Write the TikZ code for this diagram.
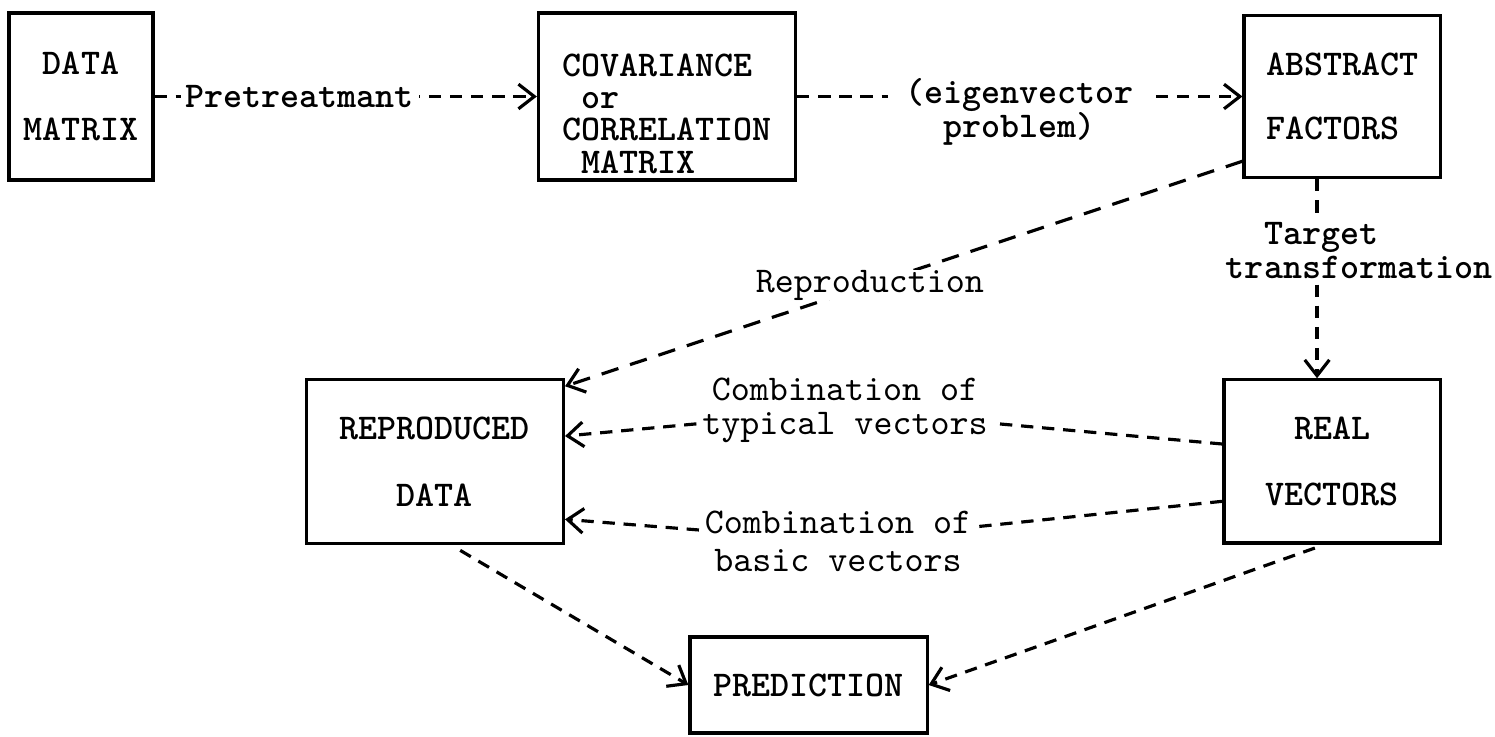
\documentclass[tikz,border=0pt]{standalone}
\usepackage{fontspec}
\usetikzlibrary{arrows.meta, positioning}

\begin{document}
\begin{tikzpicture}[
  x=0.01cm, y=-0.01cm,
  font=\ttfamily\fontsize{10.3}{9.6}\selectfont,
  box/.style={rectangle, draw, line width=0.9pt, minimum width=2.57cm,
              minimum height=1.65cm, inner sep=0pt, align=center,
              font=\ttfamily\bfseries\fontsize{10.3}{9.6}\selectfont},
  lbl/.style={fill=white, inner sep=1.5pt, align=center},
  boldlbl/.style={lbl, font=\ttfamily\bfseries\fontsize{10.3}{9.6}\selectfont},
  arrow/.style={-{Straight Barb[length=4.5pt,width=7pt]}, line width=0.9pt,
                dash pattern=on 3.5pt off 2.5pt},
  longarrow/.style={arrow, dash pattern=on 5pt off 3.5pt},
]
  \useasboundingbox (0,0) rectangle (1495,736);

  % top row
  \node[box, minimum width=1.44cm, minimum height=1.67cm, align=left] (dm) at (81,96.5)
    {\phantom{a}DATA\\[0.33cm]MATRIX};
  \node[box, minimum height=1.67cm, right=3.82cm of dm] (cov) {};
  \node[align=left, font=\ttfamily\bfseries\fontsize{10.3}{9.2}\selectfont] (covtxt)
    at ([yshift=-0.17cm]cov.center) {COVARIANCE\\\phantom{a}or\\CORRELATION\\\phantom{a}MATRIX};
  \node[box, minimum width=1.96cm, minimum height=1.62cm, align=left, right=4.45cm of cov] (abs)
    {ABSTRACT\\[0.3cm]FACTORS};

  % middle row
  \node[box, minimum width=2.16cm, minimum height=1.63cm, below=1.99cm of abs, xshift=-0.1cm] (real)
    {REAL\\[0.33cm]VECTORS};
  \node[box, minimum height=1.64cm, left=6.57cm of real] (rep) {REPRODUCED\\[0.33cm]DATA};

  % bottom
  \node[box, minimum width=2.37cm, minimum height=0.96cm] (pred) at (808.5,685) {PREDICTION};

  % labels between the middle boxes
  \node[lbl] (typ) at (845,410) {Combination of\\typical vectors};
  \node[lbl, font=\ttfamily\fontsize{10.3}{10.8}\selectfont] (bas) at (838,541) {Combination of\\basic vectors};

  \draw[arrow] (dm) -- node[boldlbl, pos=0.38] {Pretreatmant} (cov);
  \draw[arrow] (cov) -- node[boldlbl, inner xsep=5pt, yshift=-0.155cm] {(eigenvector\\problem)} (abs);
  \draw[longarrow] (abs.213) -- node[lbl, pos=0.55, inner sep=0pt] {Reproduction} (rep.30);
  \draw[arrow] ([xshift=-0.25cm]abs.south) -- node[boldlbl, pos=0.36, xshift=0.42cm, align=left]
    {\phantom{aa}Target\\transformation} ([xshift=-0.15cm]real.north);
  \draw[arrow] (real.171) -- (typ) -- (rep.11);
  \draw[arrow] (real.200) -- (bas) -- (rep.-24);
  \draw[arrow, shorten <=3pt] (rep.-79) -- (pred.west);
  \draw[arrow, shorten <=3pt] (real.-95) -- (pred.east);
\end{tikzpicture}
\end{document}
